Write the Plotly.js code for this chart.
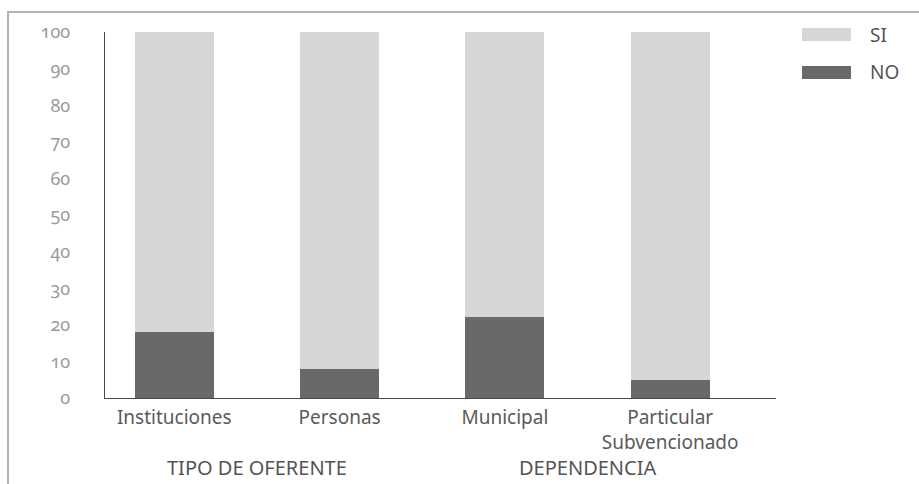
<!DOCTYPE html>
<html>
<head>
<meta charset="utf-8">
<script src="https://cdn.plot.ly/plotly-3.0.1.min.js"></script>
<style>
  html, body { margin: 0; padding: 0; background: #fff; }
  #wrap { position: relative; width: 919px; height: 484px; }
  #chart { position: absolute; left: 0; top: 0; width: 919px; height: 484px; }
  #frame { position: absolute; left: 7px; top: 11px; right: 0; bottom: 0;
           border-top: 2px solid #b3b3b3; border-left: 2px solid #b3b3b3; pointer-events: none; }
  .ytick text { font-variant-numeric: oldstyle-nums; font-feature-settings: "onum" 1; }
</style>
</head>
<body>
<div id="wrap">
  <div id="chart"></div>
  <div id="frame"></div>
</div>
<script>
// Share of answers per group (percent)
const categories = ['Instituciones', 'Personas', 'Municipal', 'Particular<br>Subvencionado'];
const noValues = [18, 8, 22, 5];
const siValues = [82, 92, 78, 95];
const seriesNames = ['SI', 'NO'];
const seriesColors = ['#d5d6d8', '#69696b'];
const groupLabels = ['TIPO DE OFERENTE', 'DEPENDENCIA'];
const groupCenters = [0.5, 2.5];
const yTicks = [0, 10, 20, 30, 40, 50, 60, 70, 80, 90, 100];

const idx = categories.map((_, i) => i);
const font = '"Noto Sans", "Open Sans", sans-serif';

const traces = [
  { type: 'bar', name: seriesNames[1], x: idx, y: noValues, width: 0.478,
    marker: { color: seriesColors[1], line: { width: 0 } }, showlegend: false, hoverinfo: 'skip' },
  { type: 'bar', name: seriesNames[0], x: idx, y: siValues, width: 0.478,
    marker: { color: seriesColors[0], line: { width: 0 } }, showlegend: false, hoverinfo: 'skip' }
];

// legend swatches and labels on the right
const legendRows = [
  { name: seriesNames[0], color: seriesColors[0], y0: 0.9754, y1: 1.0109, ty: 0.9918 },
  { name: seriesNames[1], color: seriesColors[1], y0: 0.8716, y1: 0.9071, ty: 0.8907 }
];
const shapes = legendRows.map(r => ({
  type: 'rect', xref: 'paper', yref: 'paper', x0: 1.0387, x1: 1.1118, y0: r.y0, y1: r.y1,
  fillcolor: r.color, line: { width: 0 }
}));
const annotations = legendRows.map(r => ({
  xref: 'paper', yref: 'paper', x: 1.137, y: r.ty, xanchor: 'left', yanchor: 'middle',
  text: r.name, showarrow: false, font: { family: font, size: 19, color: '#555' }
})).concat(groupLabels.map((g, i) => ({
  xref: 'x', yref: 'paper', x: groupCenters[i], y: -0.191, xanchor: 'center', yanchor: 'middle',
  text: g, showarrow: false, font: { family: font, size: 20, color: '#555' }
})));

const layout = {
  width: 919, height: 484,
  margin: { l: 105, r: 143, t: 32, b: 86, pad: 0 },
  barmode: 'stack',
  paper_bgcolor: '#fff', plot_bgcolor: '#fff',
  showlegend: false,
  font: { family: font, color: '#555' },
  xaxis: {
    range: [-0.419, 3.64], tickmode: 'array', tickvals: idx, ticktext: categories,
    showgrid: false, zeroline: false, showline: true, linecolor: '#4a4a4a', linewidth: 1.3,
    ticks: 'outside', ticklen: 2, tickcolor: 'rgba(0,0,0,0)',
    tickfont: { family: font, size: 19, color: '#5a5a5a' }, fixedrange: true
  },
  yaxis: {
    range: [0, 100], tickmode: 'array', tickvals: yTicks,
    showgrid: false, zeroline: false, showline: true, linecolor: '#4a4a4a', linewidth: 1.3,
    ticks: 'outside', ticklen: 30, tickcolor: 'rgba(0,0,0,0)',
    tickfont: { family: font, size: 18, color: '#9a9a9a' }, fixedrange: true
  },
  shapes: shapes,
  annotations: annotations
};

Plotly.newPlot('chart', traces, layout, { displayModeBar: false, staticPlot: true });
</script>
</body>
</html>
